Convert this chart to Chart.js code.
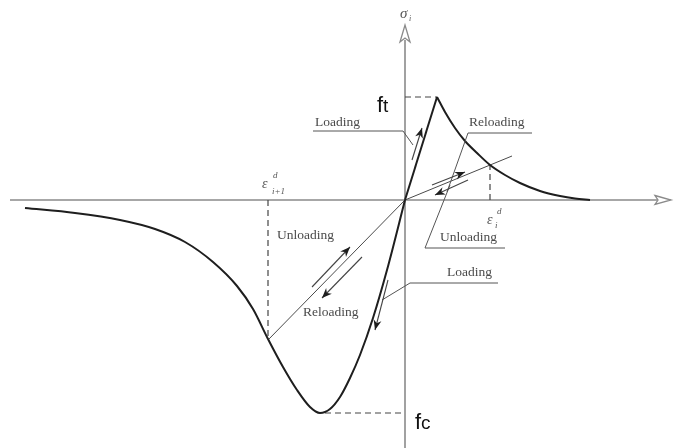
<!DOCTYPE html>
<html>
<head>
<meta charset="utf-8">
<script src="https://cdn.jsdelivr.net/npm/chart.js@4.4.1/dist/chart.umd.min.js"></script>
<style>
  html, body { margin: 0; padding: 0; background: #fff; }
  #wrap { width: 681px; height: 448px; position: relative; }
</style>
</head>
<body>
<div id="wrap"><canvas id="c"></canvas></div>
<script>
// strain (x) / stress (y) in drawing units, origin at the axes crossing
const COMP_X = [-380, -330, -285, -250, -220, -192, -168, -152, -137, -122, -108, -95, -85, -75, -65, -55, -45, -32, -18, 0];
const COMP_Y = [-8, -13, -20, -29, -42, -62, -86, -109, -139, -167, -190, -207, -213, -209, -197, -178, -155, -118, -70, 0];

const LOAD_X = [0, 32];
const LOAD_Y = [0, 103];

const TENS_X = [32, 40, 50, 60, 72, 85, 100, 115, 135, 155, 170, 185];
const TENS_Y = [103, 88, 72, 59, 47, 35, 25, 17, 9, 4, 1.5, 0];

const UNLOAD_C_X = [0, -137];
const UNLOAD_C_Y = [0, -140];
const RELOAD_T_X = [0, 107];
const RELOAD_T_Y = [0, 44];

// dashed guide lines
const DASH_EPS1_X = [-137, -137], DASH_EPS1_Y = [0, -140];
const DASH_FC_X = [-80, 0],      DASH_FC_Y = [-213, -213];
const DASH_FT_X = [0, 32],       DASH_FT_Y = [103, 103];
const DASH_EPS_X = [85, 85],     DASH_EPS_Y = [0, 35];

// small direction arrows [x0, y0, x1, y1], head at the second point
const ARROWS = [
  [7, 40, 17, 72],
  [27, 15, 60, 28],
  [63, 20, 30, 5],
  [-93, -87, -55, -47],
  [-43, -57, -83, -98],
  [-17, -80, -30, -130],
];

// leader lines (x list, y list)
const LEADERS = [
  [[-92, -2, 8], [69, 69, 55]],
  [[127, 63, 42], [67, 67, 8]],
  [[100, 20, 45], [-48, -48, 15]],
  [[93, 5, -23], [-83, -83, -100]],
];

const LABELS = ['Loading', 'Reloading', 'Unloading', 'Loading', 'Unloading', 'Reloading'];
const LABEL_X = [-90, 64, 35, 42, -128, -102];
const LABEL_Y = [78, 78, -37, -72, -35, -112];

const X_MIN = -405, X_MAX = 276, Y_MIN = -248, Y_MAX = 200;

const pts = (xs, ys) => xs.map((x, i) => ({ x, y: ys[i] }));

function line(xs, ys, opts) {
  return Object.assign({
    data: pts(xs, ys),
    showLine: true,
    pointRadius: 0,
    borderColor: '#4a4a4a',
    borderWidth: 1,
    fill: false,
  }, opts);
}

const THICK = { borderColor: '#1e1e1e', borderWidth: 2 };
const DASH = { borderColor: '#444', borderWidth: 1.2, borderDash: [6, 4] };

function arrowHead(ctx, x0, y0, x1, y1, len, half) {
  const a = Math.atan2(y1 - y0, x1 - x0);
  ctx.beginPath();
  ctx.moveTo(x1, y1);
  ctx.lineTo(x1 - len * Math.cos(a) + half * Math.sin(a), y1 - len * Math.sin(a) - half * Math.cos(a));
  ctx.lineTo(x1 - len * 0.7 * Math.cos(a), y1 - len * 0.7 * Math.sin(a));
  ctx.lineTo(x1 - len * Math.cos(a) - half * Math.sin(a), y1 - len * Math.sin(a) + half * Math.cos(a));
  ctx.closePath();
  ctx.fill();
}

const axesPlugin = {
  id: 'axesPlugin',
  beforeDatasetsDraw(chart) {
    const { ctx, scales: { x, y } } = chart;
    const px = v => x.getPixelForValue(v), py = v => y.getPixelForValue(v);
    ctx.save();
    ctx.strokeStyle = '#8a8a8a';
    ctx.lineWidth = 1.6;
    // horizontal axis
    ctx.beginPath();
    ctx.moveTo(px(-395), py(0));
    ctx.lineTo(px(252), py(0));
    ctx.stroke();
    // vertical axis
    ctx.beginPath();
    ctx.moveTo(px(0), py(Y_MIN));
    ctx.lineTo(px(0), py(160));
    ctx.stroke();
    // open arrowheads
    ctx.lineWidth = 1.3;
    ctx.beginPath();
    ctx.moveTo(px(250), py(4.5));
    ctx.lineTo(px(266), py(0));
    ctx.lineTo(px(250), py(-4.5));
    ctx.lineTo(px(253), py(0));
    ctx.closePath();
    ctx.stroke();
    ctx.beginPath();
    ctx.moveTo(px(-5), py(158));
    ctx.lineTo(px(0), py(175));
    ctx.lineTo(px(5), py(158));
    ctx.lineTo(px(0), py(162));
    ctx.closePath();
    ctx.stroke();
    ctx.restore();
  },
  afterDatasetsDraw(chart) {
    const { ctx, scales: { x, y } } = chart;
    const px = v => x.getPixelForValue(v), py = v => y.getPixelForValue(v);
    ctx.save();
    // leaders
    ctx.strokeStyle = '#555';
    ctx.lineWidth = 1;
    LEADERS.forEach(([xs, ys]) => {
      ctx.beginPath();
      xs.forEach((v, i) => i ? ctx.lineTo(px(v), py(ys[i])) : ctx.moveTo(px(v), py(ys[i])));
      ctx.stroke();
    });
    // small arrows
    ctx.fillStyle = '#1e1e1e';
    ARROWS.forEach(([x0, y0, x1, y1]) => {
      const a = [px(x0), py(y0), px(x1), py(y1)];
      ctx.strokeStyle = '#444';
      ctx.lineWidth = 1.1;
      ctx.beginPath();
      ctx.moveTo(a[0], a[1]);
      ctx.lineTo(a[2], a[3]);
      ctx.stroke();
      arrowHead(ctx, a[0], a[1], a[2], a[3], 10, 4);
    });
    // labels
    ctx.fillStyle = '#4a4a4a';
    ctx.font = '13.5px "Liberation Serif", "DejaVu Serif", serif';
    ctx.textBaseline = 'middle';
    ctx.textAlign = 'left';
    LABELS.forEach((t, i) => ctx.fillText(t, px(LABEL_X[i]), py(LABEL_Y[i])));

    // f_t and f_c
    ctx.fillStyle = '#111';
    ctx.textBaseline = 'alphabetic';
    ctx.font = '22px "Liberation Sans", Arial, sans-serif';
    ctx.fillText('f', px(-28), py(88));
    ctx.font = '19px "Liberation Sans", Arial, sans-serif';
    ctx.fillText('t', px(-22), py(88));
    ctx.font = '22px "Liberation Sans", Arial, sans-serif';
    ctx.fillText('f', px(10), py(-229));
    ctx.font = '19px "Liberation Sans", Arial, sans-serif';
    ctx.fillText('c', px(16), py(-229));

    // sigma_i
    ctx.fillStyle = '#555';
    ctx.font = 'italic 15px "Liberation Serif", serif';
    ctx.fillText('σ', px(-5), py(182));
    ctx.font = 'italic 8px "Liberation Serif", serif';
    ctx.fillText('i', px(4), py(179));

    // epsilon labels
    ctx.font = 'italic 14px "Liberation Serif", serif';
    ctx.fillText('ε', px(-143), py(12));
    ctx.fillText('ε', px(82), py(-24));
    ctx.font = 'italic 9px "Liberation Serif", serif';
    ctx.fillText('d', px(-132), py(22));
    ctx.fillText('i+1', px(-133), py(6));
    ctx.fillText('d', px(92), py(-14));
    ctx.fillText('i', px(90), py(-28));
    ctx.restore();
  },
};

new Chart(document.getElementById('c'), {
  type: 'scatter',
  data: {
    datasets: [
      line(COMP_X, COMP_Y, Object.assign({ cubicInterpolationMode: 'monotone' }, THICK)),
      line(LOAD_X, LOAD_Y, THICK),
      line(TENS_X, TENS_Y, Object.assign({ cubicInterpolationMode: 'monotone' }, THICK)),
      line(UNLOAD_C_X, UNLOAD_C_Y, {}),
      line(RELOAD_T_X, RELOAD_T_Y, {}),
      line(DASH_EPS1_X, DASH_EPS1_Y, DASH),
      line(DASH_FC_X, DASH_FC_Y, DASH),
      line(DASH_FT_X, DASH_FT_Y, DASH),
      line(DASH_EPS_X, DASH_EPS_Y, DASH),
    ],
  },
  options: {
    responsive: true,
    maintainAspectRatio: false,
    animation: false,
    layout: { padding: 0 },
    plugins: { legend: { display: false }, tooltip: { enabled: false } },
    scales: {
      x: { type: 'linear', display: false, min: X_MIN, max: X_MAX },
      y: { type: 'linear', display: false, min: Y_MIN, max: Y_MAX },
    },
  },
  plugins: [axesPlugin],
});
</script>
</body>
</html>
